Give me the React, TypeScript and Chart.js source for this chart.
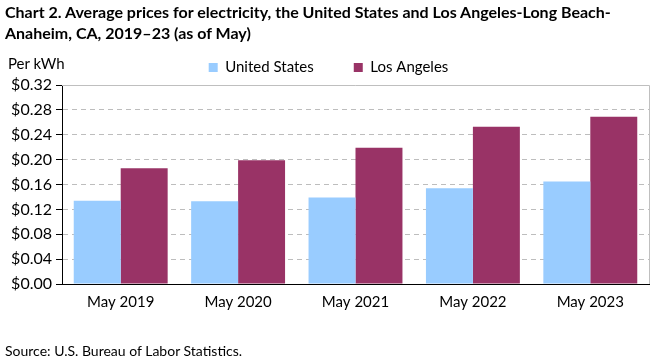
import React, { useEffect, useRef } from "react";
import { Chart, registerables } from "chart.js";

Chart.register(...registerables);

const categories = ["May 2019", "May 2020", "May 2021", "May 2022", "May 2023"];
const usValues = [0.134, 0.133, 0.139, 0.154, 0.165];
const laValues = [0.186, 0.199, 0.219, 0.253, 0.269];
const seriesNames = ["United States", "Los Angeles"];
const yTicks = [0, 0.04, 0.08, 0.12, 0.16, 0.2, 0.24, 0.28, 0.32];

const FONT = "Lato, 'Open Sans', sans-serif";

const frame = {
  id: "frame",
  afterDatasetsDraw(chart: any) {
    const { ctx, chartArea } = chart;
    ctx.save();
    ctx.strokeStyle = "#bfbfbf";
    ctx.lineWidth = 1;
    ctx.beginPath();
    ctx.moveTo(chartArea.left, chartArea.top + 0.5);
    ctx.lineTo(chartArea.right + 0.5, chartArea.top + 0.5);
    ctx.lineTo(chartArea.right + 0.5, chartArea.bottom);
    ctx.stroke();
    ctx.restore();
  },
};

export default function App() {
  const ref = useRef<HTMLCanvasElement>(null);
  useEffect(() => {
    document.body.style.margin = "0";
    const chart = new Chart(ref.current!, {
      type: "bar",
      data: {
        labels: categories,
        datasets: [
          { label: seriesNames[0], data: usValues, backgroundColor: "#99ccff", categoryPercentage: 0.8, barPercentage: 1.0 },
          { label: seriesNames[1], data: laValues, backgroundColor: "#993366", categoryPercentage: 0.8, barPercentage: 1.0 },
        ],
      },
      options: {
        animation: false,
        responsive: false,
        layout: { padding: { top: 20, right: 12, bottom: 0, left: 8 } },
        plugins: {
          legend: {
            display: true,
            position: "top",
            labels: {
              boxWidth: 9,
              boxHeight: 9,
              padding: 40,
              color: "#000",
              font: { family: FONT, size: 15 },
            },
          },
          tooltip: { enabled: false },
        },
        scales: {
          x: {
            grid: { display: false, drawTicks: false },
            border: { display: true, color: "#000", width: 1 },
            ticks: { color: "#000", font: { family: FONT, size: 15 }, padding: 9 },
            afterFit: (s: any) => { s.height = 76; },
          },
          y: {
            min: 0,
            max: 0.32,
            afterBuildTicks: (s: any) => { s.ticks = yTicks.map((v) => ({ value: v })); },
            grid: {
              color: (c: any) => (c.tick && c.tick.value === 0.32 ? "rgba(0,0,0,0)" : "#bdbdbd"),
              tickColor: "#000",
              tickLength: 6,
              drawTicks: true,
            },
            border: { display: true, color: "#000", width: 1, dash: [5, 4] },
            ticks: {
              color: "#000",
              font: { family: FONT, size: 16 },
              padding: 4,
              callback: (v: any) => "$" + Number(v).toFixed(2),
            },
            afterFit: (s: any) => { s.width = 54; },
          },
        },
      },
      plugins: [frame],
    });
    return () => chart.destroy();
  }, []);

  return (
    <div style={{ position: "absolute", left: 0, top: 0, width: 661, height: 360, fontFamily: FONT, color: "#000" }}>
      <canvas ref={ref} width={661} height={360} style={{ position: "absolute", left: 0, top: 0 }} />
      <div style={{ position: "absolute", left: 5, top: 1, fontWeight: "bold", fontSize: 16, lineHeight: "21px", whiteSpace: "nowrap" }}>
        Chart 2. Average prices for electricity, the United States and Los Angeles-Long Beach-
        <br />
        Anaheim, CA, 2019–23 (as of May)
      </div>
      <div style={{ position: "absolute", left: 8, top: 53, fontSize: 15, lineHeight: "20px", whiteSpace: "nowrap" }}>Per kWh</div>
      <div style={{ position: "absolute", left: 5, top: 342, fontSize: 14, lineHeight: "18px", whiteSpace: "nowrap" }}>
        Source: U.S. Bureau of Labor Statistics.
      </div>
    </div>
  );
}
